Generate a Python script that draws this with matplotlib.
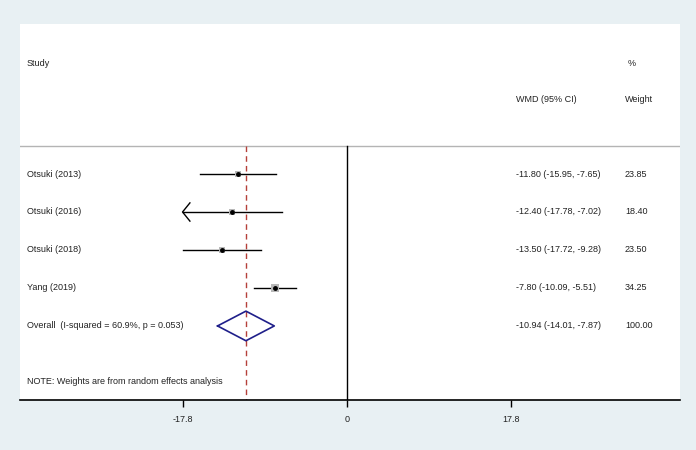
import numpy as np
import matplotlib.pyplot as plt

plt.rcParams['font.family'] = ['Liberation Sans', 'DejaVu Sans']

# study data (WMD, 95% CI, % weight)
studies = ['Otsuki (2013)', 'Otsuki (2016)', 'Otsuki (2018)', 'Yang (2019)']
wmd = [-11.80, -12.40, -13.50, -7.80]
ci_low = [-15.95, -17.78, -17.72, -10.09]
ci_high = [-7.65, -7.02, -9.28, -5.51]
weights = [23.85, 18.40, 23.50, 34.25]
truncated = [False, True, False, False]  # CI drawn with arrow at left limit

overall_label = 'Overall  (I-squared = 60.9%, p = 0.053)'
overall_wmd, overall_low, overall_high = -10.94, -14.01, -7.87

xticks = [-17.8, 0, 17.8]
xtick_labels = ['-17.8', '0', '17.8']
note = 'NOTE: Weights are from random effects analysis'

bg = '#e8f0f3'
txt = '#222222'
fs = 6.5

fig = plt.figure(figsize=(6.96, 4.5), dpi=100, facecolor=bg)
# white plot area in pixel placement
W, H = 696, 450
ax = fig.add_axes([20 / W, (H - 400) / H, 660 / W, 376 / H])
ax.set_facecolor('white')

ax.set_xlim(-35.39, 36.04)
ax.set_ylim(5.95, -3.95)
clip = -17.8  # left display limit of CIs

trans = ax.get_yaxis_transform()  # x in axes fraction, y in data

# header
ax.text(0.0106, -2.92, 'Study', transform=trans, fontsize=fs, color=txt, va='center')
ax.text(0.921, -2.92, '%', transform=trans, fontsize=fs, color=txt, va='center')
ax.text(0.7515, -1.95, 'WMD (95% CI)', transform=trans, fontsize=fs, color=txt, va='center')
ax.text(0.9167, -1.95, 'Weight', transform=trans, fontsize=fs, color=txt, va='center')
ax.axhline(-0.74, color='#b4b4b4', linewidth=1)

# reference lines
ax.plot([0, 0], [-0.74, 5.95], color='black', linewidth=1)
ax.plot([overall_wmd, overall_wmd], [-0.74, 5.95], color='#b5403a',
        linewidth=1, linestyle=(0, (4, 3)))

for i, name in enumerate(studies):
    lo = clip if truncated[i] else ci_low[i]
    ax.plot([lo, ci_high[i]], [i, i], color='black', linewidth=1)
    if truncated[i]:
        ax.plot([clip + 0.8, clip, clip + 0.8], [i - 0.24, i, i + 0.24],
                color='black', linewidth=1)
    ax.plot(wmd[i], i, marker='s', color='#b8b8b8', markersize=np.sqrt(weights[i]) * 0.9,
            markeredgewidth=0)
    ax.plot(wmd[i], i, marker='o', color='black', markersize=2.5)
    ax.text(0.0106, i, name, transform=trans, fontsize=fs, color=txt, va='center')
    ax.text(0.7515, i, '%.2f (%.2f, %.2f)' % (wmd[i], ci_low[i], ci_high[i]),
            transform=trans, fontsize=fs, color=txt, va='center')
    ax.text(0.9167, i, '%.2f' % weights[i], transform=trans, fontsize=fs, color=txt, va='center')

# overall diamond
r = len(studies)
ax.plot([overall_low, overall_wmd, overall_high, overall_wmd, overall_low],
        [r, r - 0.39, r, r + 0.39, r], color='#1f1f8a', linewidth=1.2)
ax.text(0.0106, r, overall_label, transform=trans, fontsize=fs, color=txt, va='center')
ax.text(0.7515, r, '%.2f (%.2f, %.2f)' % (overall_wmd, overall_low, overall_high),
        transform=trans, fontsize=fs, color=txt, va='center')
ax.text(0.9167, r, '%.2f' % sum(weights), transform=trans, fontsize=fs, color=txt, va='center')

ax.text(0.0106, 5.45, note, transform=trans, fontsize=fs, color=txt, va='center')

for s in ['top', 'left', 'right']:
    ax.spines[s].set_visible(False)
ax.spines['bottom'].set_linewidth(1.2)
ax.set_yticks([])
ax.set_xticks(xticks)
ax.set_xticklabels(xtick_labels, fontsize=fs, color=txt)
ax.tick_params(axis='x', direction='out', length=5, width=1, pad=6)

fig.savefig('out.png', dpi=100, facecolor=bg)
